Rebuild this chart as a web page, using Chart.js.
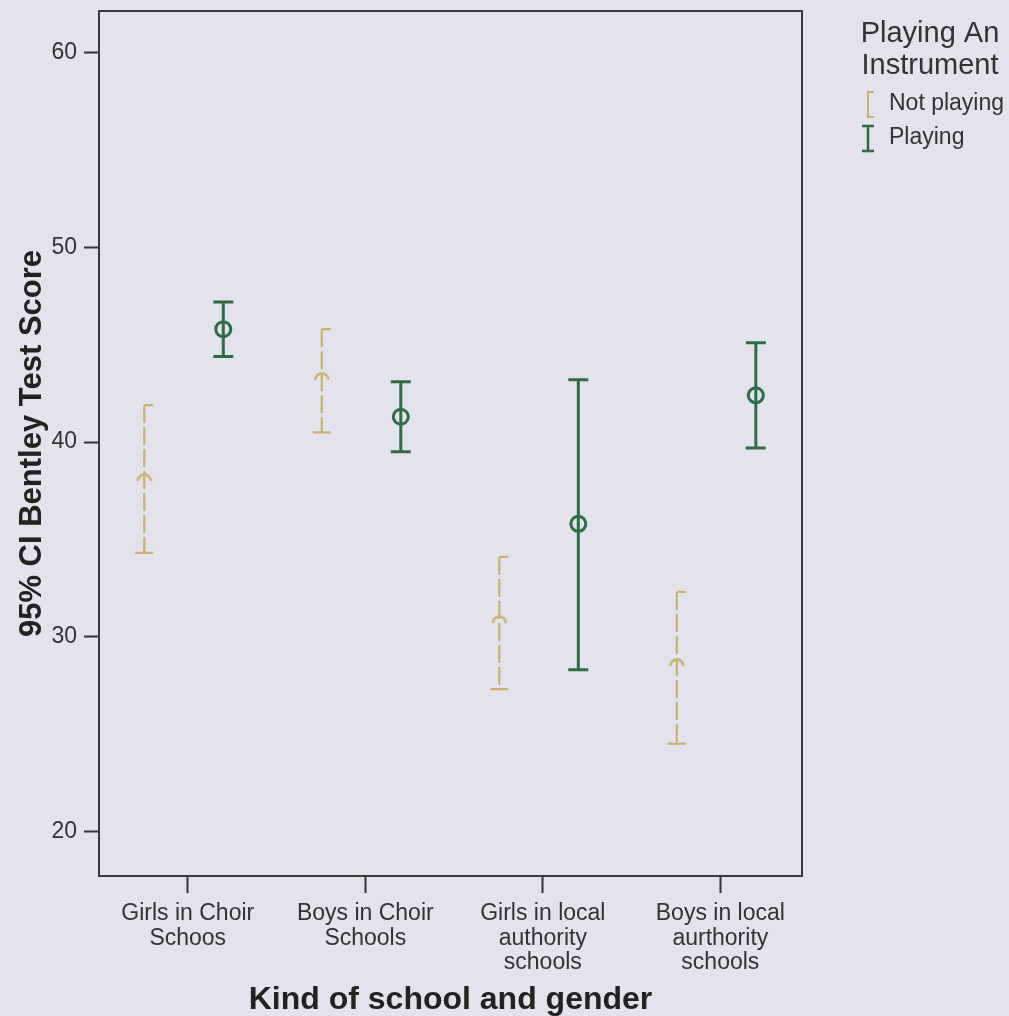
<!DOCTYPE html>
<html>
<head>
<meta charset="utf-8">
<script src="https://cdn.jsdelivr.net/npm/chart.js@4.4.1/dist/chart.umd.min.js"></script>
<style>
    html, body { margin: 0; padding: 0; background: #e3e2ed; }
    #wrap { width: 1009px; height: 1016px; }
</style>
</head>
<body>
<div id="wrap"><canvas id="ciChart" width="1009" height="1016"></canvas></div>
<script>
// Data
const categories = [
    ['Girls in Choir', 'Schoos'],
    ['Boys in Choir', 'Schools'],
    ['Girls in local', 'authority', 'schools'],
    ['Boys in local', 'aurthority', 'schools']
];
const notPlayingMean = [38.1, 43.3, 30.8, 28.6];
const notPlayingLow = [34.3, 40.5, 27.3, 24.5];
const notPlayingHigh = [41.9, 45.8, 34.1, 32.3];
const playingMean = [45.8, 41.3, 35.8, 42.4];
const playingLow = [44.4, 39.5, 28.3, 39.7];
const playingHigh = [47.2, 43.1, 43.2, 45.1];
const yTicks = [20, 30, 40, 50, 60];

// Styling
const BG = '#e3e2ed';
const INK = '#333333';
const NP_COLOR = '#c9b36c';
const P_COLOR = '#2d6c46';
const FONT = "'Liberation Sans', Arial, sans-serif";
const dodge = { notPlaying: -0.245, playing: 0.2 };

const toPoints = (means, shift) => means.map((m, i) => ({ x: i + 1 + shift, y: m }));

// Arch marker for the "Not playing" means
function archMarker() {
    const c = document.createElement('canvas');
    c.width = 20;
    c.height = 20;
    const g = c.getContext('2d');
    g.strokeStyle = NP_COLOR;
    g.lineWidth = 2.4;
    g.beginPath();
    g.arc(10, 12, 6.5, Math.PI, 2 * Math.PI);
    g.stroke();
    return c;
}

// Background fill
const background = {
    id: 'background',
    beforeDraw(chart) {
        const { ctx, width, height } = chart;
        ctx.save();
        ctx.fillStyle = BG;
        ctx.fillRect(0, 0, width, height);
        ctx.restore();
    }
};

// Confidence interval whiskers, placed through the chart scales
const errorBars = {
    id: 'errorBars',
    beforeDatasetsDraw(chart) {
        const { ctx, scales: { x, y } } = chart;
        chart.data.datasets.forEach(ds => {
            ds.data.forEach((pt, i) => {
                const px = x.getPixelForValue(pt.x);
                const top = y.getPixelForValue(ds.ciHigh[i]);
                const bottom = y.getPixelForValue(ds.ciLow[i]);
                ctx.save();
                ctx.strokeStyle = ds.borderColor;
                ctx.lineWidth = ds.whiskerWidth;
                ctx.setLineDash(ds.whiskerDash);
                ctx.beginPath();
                ctx.moveTo(px, top);
                ctx.lineTo(px, bottom);
                ctx.stroke();
                ctx.setLineDash([]);
                ctx.beginPath();
                if (ds.halfCaps) {
                    ctx.moveTo(px, top);
                    ctx.lineTo(px + ds.capHalf, top);
                    ctx.moveTo(px - ds.capHalf, bottom);
                    ctx.lineTo(px + ds.capHalf, bottom);
                } else {
                    ctx.moveTo(px - ds.capHalf, top);
                    ctx.lineTo(px + ds.capHalf, top);
                    ctx.moveTo(px - ds.capHalf, bottom);
                    ctx.lineTo(px + ds.capHalf, bottom);
                }
                ctx.stroke();
                ctx.restore();
            });
        });
    }
};

// Frame round the plot area and the legend at the right
const frameAndLegend = {
    id: 'frameAndLegend',
    afterDraw(chart) {
        const { ctx, chartArea: a } = chart;
        ctx.save();
        ctx.strokeStyle = '#3a3a3a';
        ctx.lineWidth = 2;
        ctx.strokeRect(a.left, a.top, a.right - a.left, a.bottom - a.top);

        // legend title
        ctx.fillStyle = INK;
        ctx.textAlign = 'center';
        ctx.textBaseline = 'middle';
        ctx.font = `29px ${FONT}`;
        ctx.fillText('Playing An', 930, 34);
        ctx.fillText('Instrument', 930, 66);

        // legend items
        ctx.textAlign = 'left';
        ctx.font = `23px ${FONT}`;
        ctx.fillText('Not playing', 889, 104);
        ctx.fillText('Playing', 889, 138);

        // not playing icon
        ctx.strokeStyle = NP_COLOR;
        ctx.lineWidth = 2;
        ctx.beginPath();
        ctx.moveTo(874, 92); ctx.lineTo(868, 92); ctx.lineTo(868, 117); ctx.lineTo(874, 117);
        ctx.stroke();

        // playing icon
        ctx.strokeStyle = P_COLOR;
        ctx.lineWidth = 2.5;
        ctx.beginPath();
        ctx.moveTo(862, 126); ctx.lineTo(874, 126);
        ctx.moveTo(868, 126); ctx.lineTo(868, 151);
        ctx.moveTo(862, 151); ctx.lineTo(874, 151);
        ctx.stroke();
        ctx.restore();
    }
};

function initializeChart() {
    const ctx = document.getElementById('ciChart').getContext('2d');

    new Chart(ctx, {
        type: 'scatter',
        data: {
            datasets: [
                {
                    label: 'Not playing',
                    data: toPoints(notPlayingMean, dodge.notPlaying),
                    ciLow: notPlayingLow,
                    ciHigh: notPlayingHigh,
                    borderColor: NP_COLOR,
                    whiskerWidth: 2.2,
                    whiskerDash: [18, 4],
                    capHalf: 9,
                    halfCaps: true,
                    pointStyle: archMarker(),
                    pointRadius: 10
                },
                {
                    label: 'Playing',
                    data: toPoints(playingMean, dodge.playing),
                    ciLow: playingLow,
                    ciHigh: playingHigh,
                    borderColor: P_COLOR,
                    backgroundColor: 'rgba(0,0,0,0)',
                    whiskerWidth: 3,
                    whiskerDash: [],
                    capHalf: 10,
                    halfCaps: false,
                    pointStyle: 'circle',
                    pointRadius: 7.5,
                    pointBorderWidth: 3
                }
            ]
        },
        options: {
            responsive: false,
            animation: false,
            layout: { padding: { top: 10, right: 207, left: 0, bottom: 0 } },
            plugins: {
                legend: { display: false },
                tooltip: { enabled: false }
            },
            scales: {
                x: {
                    type: 'linear',
                    min: 0.5,
                    max: 4.46,
                    afterFit: (scale) => { scale.height = 140; },
                    afterBuildTicks: (scale) => {
                        scale.ticks = categories.map((c, i) => ({ value: i + 1 }));
                    },
                    border: { display: false },
                    grid: {
                        drawOnChartArea: false,
                        tickLength: 17,
                        tickColor: INK,
                        tickWidth: 2
                    },
                    ticks: {
                        autoSkip: false,
                        maxRotation: 0,
                        padding: 8,
                        color: INK,
                        font: { family: FONT, size: 23, lineHeight: 1.08 },
                        callback: (value) => categories[Math.round(value) - 1]
                    },
                    title: {
                        display: true,
                        text: 'Kind of school and gender',
                        color: '#222',
                        font: { family: FONT, size: 32, weight: 'bold', lineHeight: 1 },
                        padding: { top: 0, bottom: 0 }
                    }
                },
                y: {
                    min: 17.7,
                    max: 62.15,
                    afterFit: (scale) => {
                        scale.width = 99;
                        scale.paddingTop = 0;
                        scale.paddingBottom = 0;
                    },
                    afterBuildTicks: (scale) => {
                        scale.ticks = yTicks.map(v => ({ value: v }));
                    },
                    border: { display: false },
                    grid: {
                        drawOnChartArea: false,
                        tickLength: 15,
                        tickColor: INK,
                        tickWidth: 2
                    },
                    ticks: {
                        padding: 7,
                        color: INK,
                        font: { family: FONT, size: 23 }
                    },
                    title: {
                        display: true,
                        text: '95% CI Bentley Test Score',
                        color: '#222',
                        font: { family: FONT, size: 31, weight: 'bold', lineHeight: 1.2 },
                        padding: { top: 14, bottom: 0 }
                    }
                }
            }
        },
        plugins: [background, errorBars, frameAndLegend]
    });
}

document.addEventListener('DOMContentLoaded', initializeChart);
</script>
</body>
</html>
